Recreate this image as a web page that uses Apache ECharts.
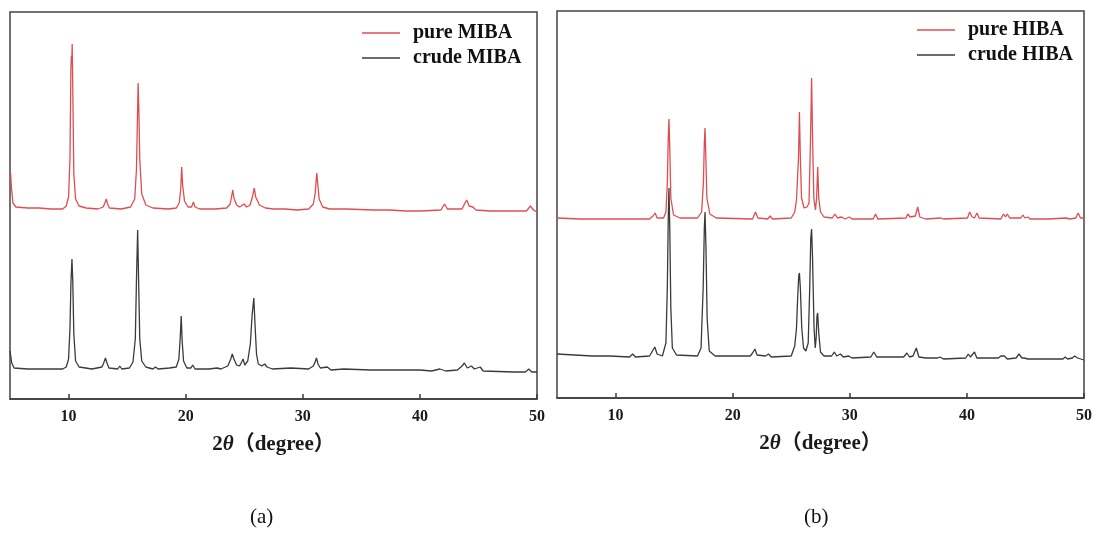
<!DOCTYPE html>
<html>
<head>
<meta charset="utf-8">
<title>XRD patterns of MIBA and HIBA</title>
<script src="https://cdn.jsdelivr.net/npm/echarts@6/dist/echarts.min.js"></script>
<style>
  html, body { margin: 0; padding: 0; background: #fff; }
  #chart { width: 1098px; height: 535px; }
</style>
</head>
<body>
<div id="chart"></div>
<script>
// Diffraction patterns: [2θ (degree), intensity (a.u., stacked offsets)]
const pureMIBA = [
  [5.0, 223], [5.05, 226], [5.12, 212], [5.25, 196], [5.5, 192], [6.5, 191], [7.5, 191], [8.5, 190], [9.5, 190],
  [9.8, 193], [10.0, 202], [10.12, 240], [10.2, 330], [10.24, 343], [10.27, 335], [10.31, 355], [10.37, 300],
  [10.45, 225], [10.6, 200], [10.9, 193], [11.5, 191], [12.5, 190], [12.95, 192], [13.1, 196], [13.22, 200],
  [13.33, 195], [13.5, 191], [14.5, 190], [15.3, 192], [15.65, 200], [15.8, 230], [15.88, 280], [15.94, 316],
  [16.0, 290], [16.08, 240], [16.25, 205], [16.6, 194], [17.2, 191], [18.5, 190], [19.2, 191], [19.45, 196],
  [19.58, 210], [19.66, 232], [19.74, 214], [19.9, 198], [20.2, 192], [20.5, 192], [20.66, 197], [20.8, 192],
  [21.2, 190], [22.5, 190], [23.5, 191], [23.8, 195], [23.93, 203], [24.02, 209], [24.12, 201], [24.35, 194],
  [24.6, 192], [25.0, 195], [25.2, 192], [25.5, 194], [25.72, 203], [25.86, 211], [25.98, 202], [26.3, 194],
  [26.8, 191], [27.5, 190], [28.5, 190], [29.5, 189], [30.5, 190], [30.9, 195], [31.05, 205], [31.14, 218],
  [31.2, 226], [31.27, 216], [31.4, 200], [31.7, 192], [32.3, 190], [33.7, 190], [36.0, 189], [36.7, 189],
  [37.4, 189], [38.8, 188], [40.1, 188], [41.8, 189], [42.1, 195], [42.35, 190], [43.6, 190], [43.85, 196],
  [44.0, 199], [44.2, 193], [44.52, 192], [44.8, 189], [46.0, 188], [48.0, 188], [49.1, 188], [49.44, 193],
  [49.7, 189], [50.0, 187]
];

const crudeMIBA = [
  [5.0, 48], [5.06, 50], [5.15, 36], [5.35, 31], [6.5, 30], [8.0, 30], [9.5, 30], [9.8, 32], [10.0, 40],
  [10.12, 70], [10.2, 115], [10.29, 140], [10.36, 118], [10.45, 65], [10.6, 38], [10.9, 32], [12.0, 30],
  [12.85, 32], [13.0, 36], [13.15, 41], [13.28, 36], [13.45, 31], [14.2, 30], [14.37, 33], [14.55, 30],
  [15.2, 31], [15.5, 37], [15.7, 60], [15.8, 120], [15.9, 169], [15.98, 120], [16.08, 60], [16.25, 38],
  [16.6, 32], [17.2, 30], [17.42, 32], [17.65, 30], [18.6, 31], [19.2, 32], [19.42, 40], [19.53, 60],
  [19.62, 83], [19.7, 58], [19.82, 38], [20.1, 31], [20.45, 31], [20.6, 34], [20.8, 30], [22.0, 30],
  [22.68, 31], [23.0, 30], [23.6, 33], [23.85, 40], [23.98, 45], [24.12, 40], [24.35, 34], [24.6, 33],
  [24.78, 37], [24.9, 40], [25.05, 34], [25.3, 38], [25.52, 55], [25.68, 85], [25.82, 101], [25.92, 75],
  [26.05, 45], [26.2, 35], [26.5, 33], [26.75, 35], [26.95, 32], [27.1, 33], [27.4, 30], [29.0, 31],
  [30.5, 30], [30.9, 33], [31.05, 37], [31.17, 41], [31.3, 35], [31.5, 31], [32.1, 32], [32.4, 29],
  [33.5, 30], [35.8, 29], [37.4, 29], [38.7, 29], [40.0, 29], [41.0, 28], [41.7, 30], [42.2, 28],
  [43.2, 29], [43.6, 33], [43.8, 36], [44.05, 31], [44.4, 33], [44.65, 30], [45.15, 32], [45.4, 28],
  [48.0, 27], [49.0, 27], [49.3, 30], [49.55, 27], [50.0, 27]
];

const pureHIBA = [
  [5.0, 180], [7.0, 179], [9.0, 179], [11.3, 179], [11.46, 181], [11.6, 179], [12.9, 179], [13.2, 182],
  [13.38, 185], [13.55, 180], [14.1, 180], [14.3, 186], [14.42, 215], [14.5, 260], [14.56, 279], [14.63, 250],
  [14.72, 200], [14.95, 183], [15.5, 180], [17.0, 180], [17.35, 186], [17.5, 215], [17.58, 255], [17.64, 270],
  [17.7, 245], [17.8, 200], [18.05, 184], [18.6, 180], [21.7, 179], [21.95, 186], [22.15, 180], [23.0, 179],
  [23.2, 182], [23.4, 179], [25.0, 180], [25.3, 186], [25.45, 198], [25.52, 196], [25.62, 240], [25.7, 286],
  [25.78, 240], [25.88, 200], [26.1, 190], [26.35, 191], [26.52, 195], [26.65, 260], [26.74, 320], [26.82, 262],
  [26.93, 200], [27.07, 188], [27.17, 200], [27.26, 231], [27.35, 200], [27.5, 186], [27.8, 181], [28.5, 180],
  [28.73, 184], [28.95, 180], [29.3, 181], [29.6, 179], [29.95, 181], [30.2, 179], [32.0, 179], [32.2, 184],
  [32.4, 179], [34.8, 180], [34.95, 184], [35.15, 181], [35.6, 182], [35.8, 191], [35.98, 181], [36.5, 179],
  [37.8, 180], [38.0, 179], [40.05, 180], [40.24, 186], [40.45, 181], [40.65, 180], [40.86, 185], [41.05, 180],
  [42.9, 179], [43.13, 184], [43.3, 181], [43.45, 184], [43.65, 180], [44.6, 180], [44.78, 183], [44.95, 180],
  [45.2, 181], [45.4, 179], [47.0, 179], [48.45, 180], [48.6, 182], [48.8, 179], [49.3, 180], [49.5, 185],
  [49.7, 180], [50.0, 180]
];

const crudeHIBA = [
  [5.0, 44], [6.5, 43], [8.0, 42], [9.5, 42], [11.2, 41], [11.46, 44], [11.7, 41], [12.9, 42], [13.15, 47],
  [13.35, 51], [13.55, 44], [14.0, 42], [14.3, 55], [14.42, 110], [14.5, 180], [14.56, 210], [14.63, 170],
  [14.72, 90], [14.85, 50], [15.2, 43], [17.0, 42], [17.3, 50], [17.48, 110], [17.58, 170], [17.64, 186],
  [17.72, 150], [17.82, 80], [18.0, 47], [18.5, 42], [21.5, 42], [21.7, 45], [21.9, 49], [22.08, 43],
  [22.8, 42], [23.06, 44], [23.3, 41], [25.0, 42], [25.3, 52], [25.45, 70], [25.55, 100], [25.64, 122],
  [25.7, 125], [25.78, 110], [25.9, 70], [26.05, 50], [26.25, 47], [26.45, 55], [26.58, 110], [26.67, 160],
  [26.74, 169], [26.82, 140], [26.95, 70], [27.05, 50], [27.13, 60], [27.2, 82], [27.26, 85], [27.35, 65],
  [27.5, 46], [27.8, 42], [28.45, 42], [28.68, 46], [28.88, 42], [29.2, 44], [29.45, 41], [29.9, 42],
  [30.2, 40], [31.8, 41], [32.05, 46], [32.3, 41], [34.6, 41], [34.88, 45], [35.1, 41], [35.4, 42],
  [35.68, 50], [35.9, 41], [36.5, 40], [37.5, 40], [37.7, 41], [38.0, 39], [39.9, 40], [40.12, 44],
  [40.3, 41], [40.45, 41], [40.65, 46], [40.85, 40], [42.7, 40], [42.9, 42], [43.2, 42], [43.45, 39],
  [44.2, 40], [44.45, 44], [44.7, 40], [44.9, 40], [45.2, 39], [48.2, 39], [48.4, 41], [48.6, 39],
  [49.0, 40], [49.2, 42], [49.45, 40], [50.0, 38]
];

const legendA = ['pure MIBA', 'crude MIBA'];
const legendB = ['pure HIBA', 'crude HIBA'];
const panelTags = ['(a)', '(b)'];

const RED = '#df4d53';
const DARK = '#3b3b3b';
const SERIF = '"Liberation Serif", "Times New Roman", serif';

function xAxisFor(gridIndex) {
  return {
    gridIndex: gridIndex,
    type: 'value',
    min: 5,
    max: 50,
    splitLine: { show: false },
    axisLine: { show: true, lineStyle: { color: '#3a3a3a', width: 1.5 } },
    axisTick: { show: true, inside: true, length: 5, lineStyle: { color: '#3a3a3a', width: 1.5 } },
    axisLabel: {
      showMinLabel: false,
      margin: 10,
      fontFamily: SERIF,
      fontWeight: 'bold',
      fontSize: 16,
      color: '#1a1a1a'
    },
    name: '{n|2}{i|θ}{p|（degree）}',
    nameLocation: 'middle',
    nameGap: 35,
    nameTextStyle: {
      rich: {
        n: { fontFamily: SERIF, fontWeight: 'bold', fontSize: 21, color: '#1a1a1a' },
        i: { fontFamily: SERIF, fontWeight: 'bold', fontStyle: 'italic', fontSize: 21, color: '#1a1a1a' },
        p: { fontFamily: SERIF + ', "Noto Sans CJK SC"', fontWeight: 'bold', fontSize: 21, color: '#1a1a1a' }
      }
    }
  };
}

function yAxisFor(gridIndex) {
  return { gridIndex: gridIndex, type: 'value', min: 0, max: 387, show: false };
}

function lineSeries(name, data, color, idx) {
  return {
    name: name,
    type: 'line',
    xAxisIndex: idx,
    yAxisIndex: idx,
    data: data,
    symbol: 'none',
    smooth: false,
    lineStyle: { color: color, width: 1.3 },
    itemStyle: { color: color },
    emphasis: { disabled: true }
  };
}

function legendFor(names, left, top) {
  return {
    data: names,
    left: left,
    top: top,
    padding: 0,
    orient: 'vertical',
    icon: 'rect',
    itemWidth: 38,
    itemHeight: 1.5,
    itemGap: 3,
    selectedMode: false,
    textStyle: {
      fontFamily: SERIF,
      fontWeight: 'bold',
      fontSize: 20,
      lineHeight: 22,
      color: '#111',
      padding: [0, 0, 0, 8]
    }
  };
}

const gridBox = { show: true, borderColor: '#444', borderWidth: 1.5, backgroundColor: 'transparent' };

const option = {
  backgroundColor: '#ffffff',
  animation: false,
  grid: [
    Object.assign({ left: 10, top: 12, width: 527, height: 387 }, gridBox),
    Object.assign({ left: 557, top: 11, width: 527, height: 387 }, gridBox)
  ],
  xAxis: [xAxisFor(0), xAxisFor(1)],
  yAxis: [yAxisFor(0), yAxisFor(1)],
  legend: [legendFor(legendA, 362, 22), legendFor(legendB, 917, 19)],
  series: [
    lineSeries(legendA[1], crudeMIBA, DARK, 0),
    lineSeries(legendA[0], pureMIBA, RED, 0),
    lineSeries(legendB[1], crudeHIBA, DARK, 1),
    lineSeries(legendB[0], pureHIBA, RED, 1)
  ],
  graphic: [
    { type: 'text', left: 250, top: 507, style: { text: panelTags[0], fontFamily: SERIF, fontSize: 21, fill: '#111' } },
    { type: 'text', left: 804, top: 507, style: { text: panelTags[1], fontFamily: SERIF, fontSize: 21, fill: '#111' } }
  ]
};

const chart = echarts.init(document.getElementById('chart'), null, { renderer: 'canvas' });
chart.setOption(option);
</script>
</body>
</html>
